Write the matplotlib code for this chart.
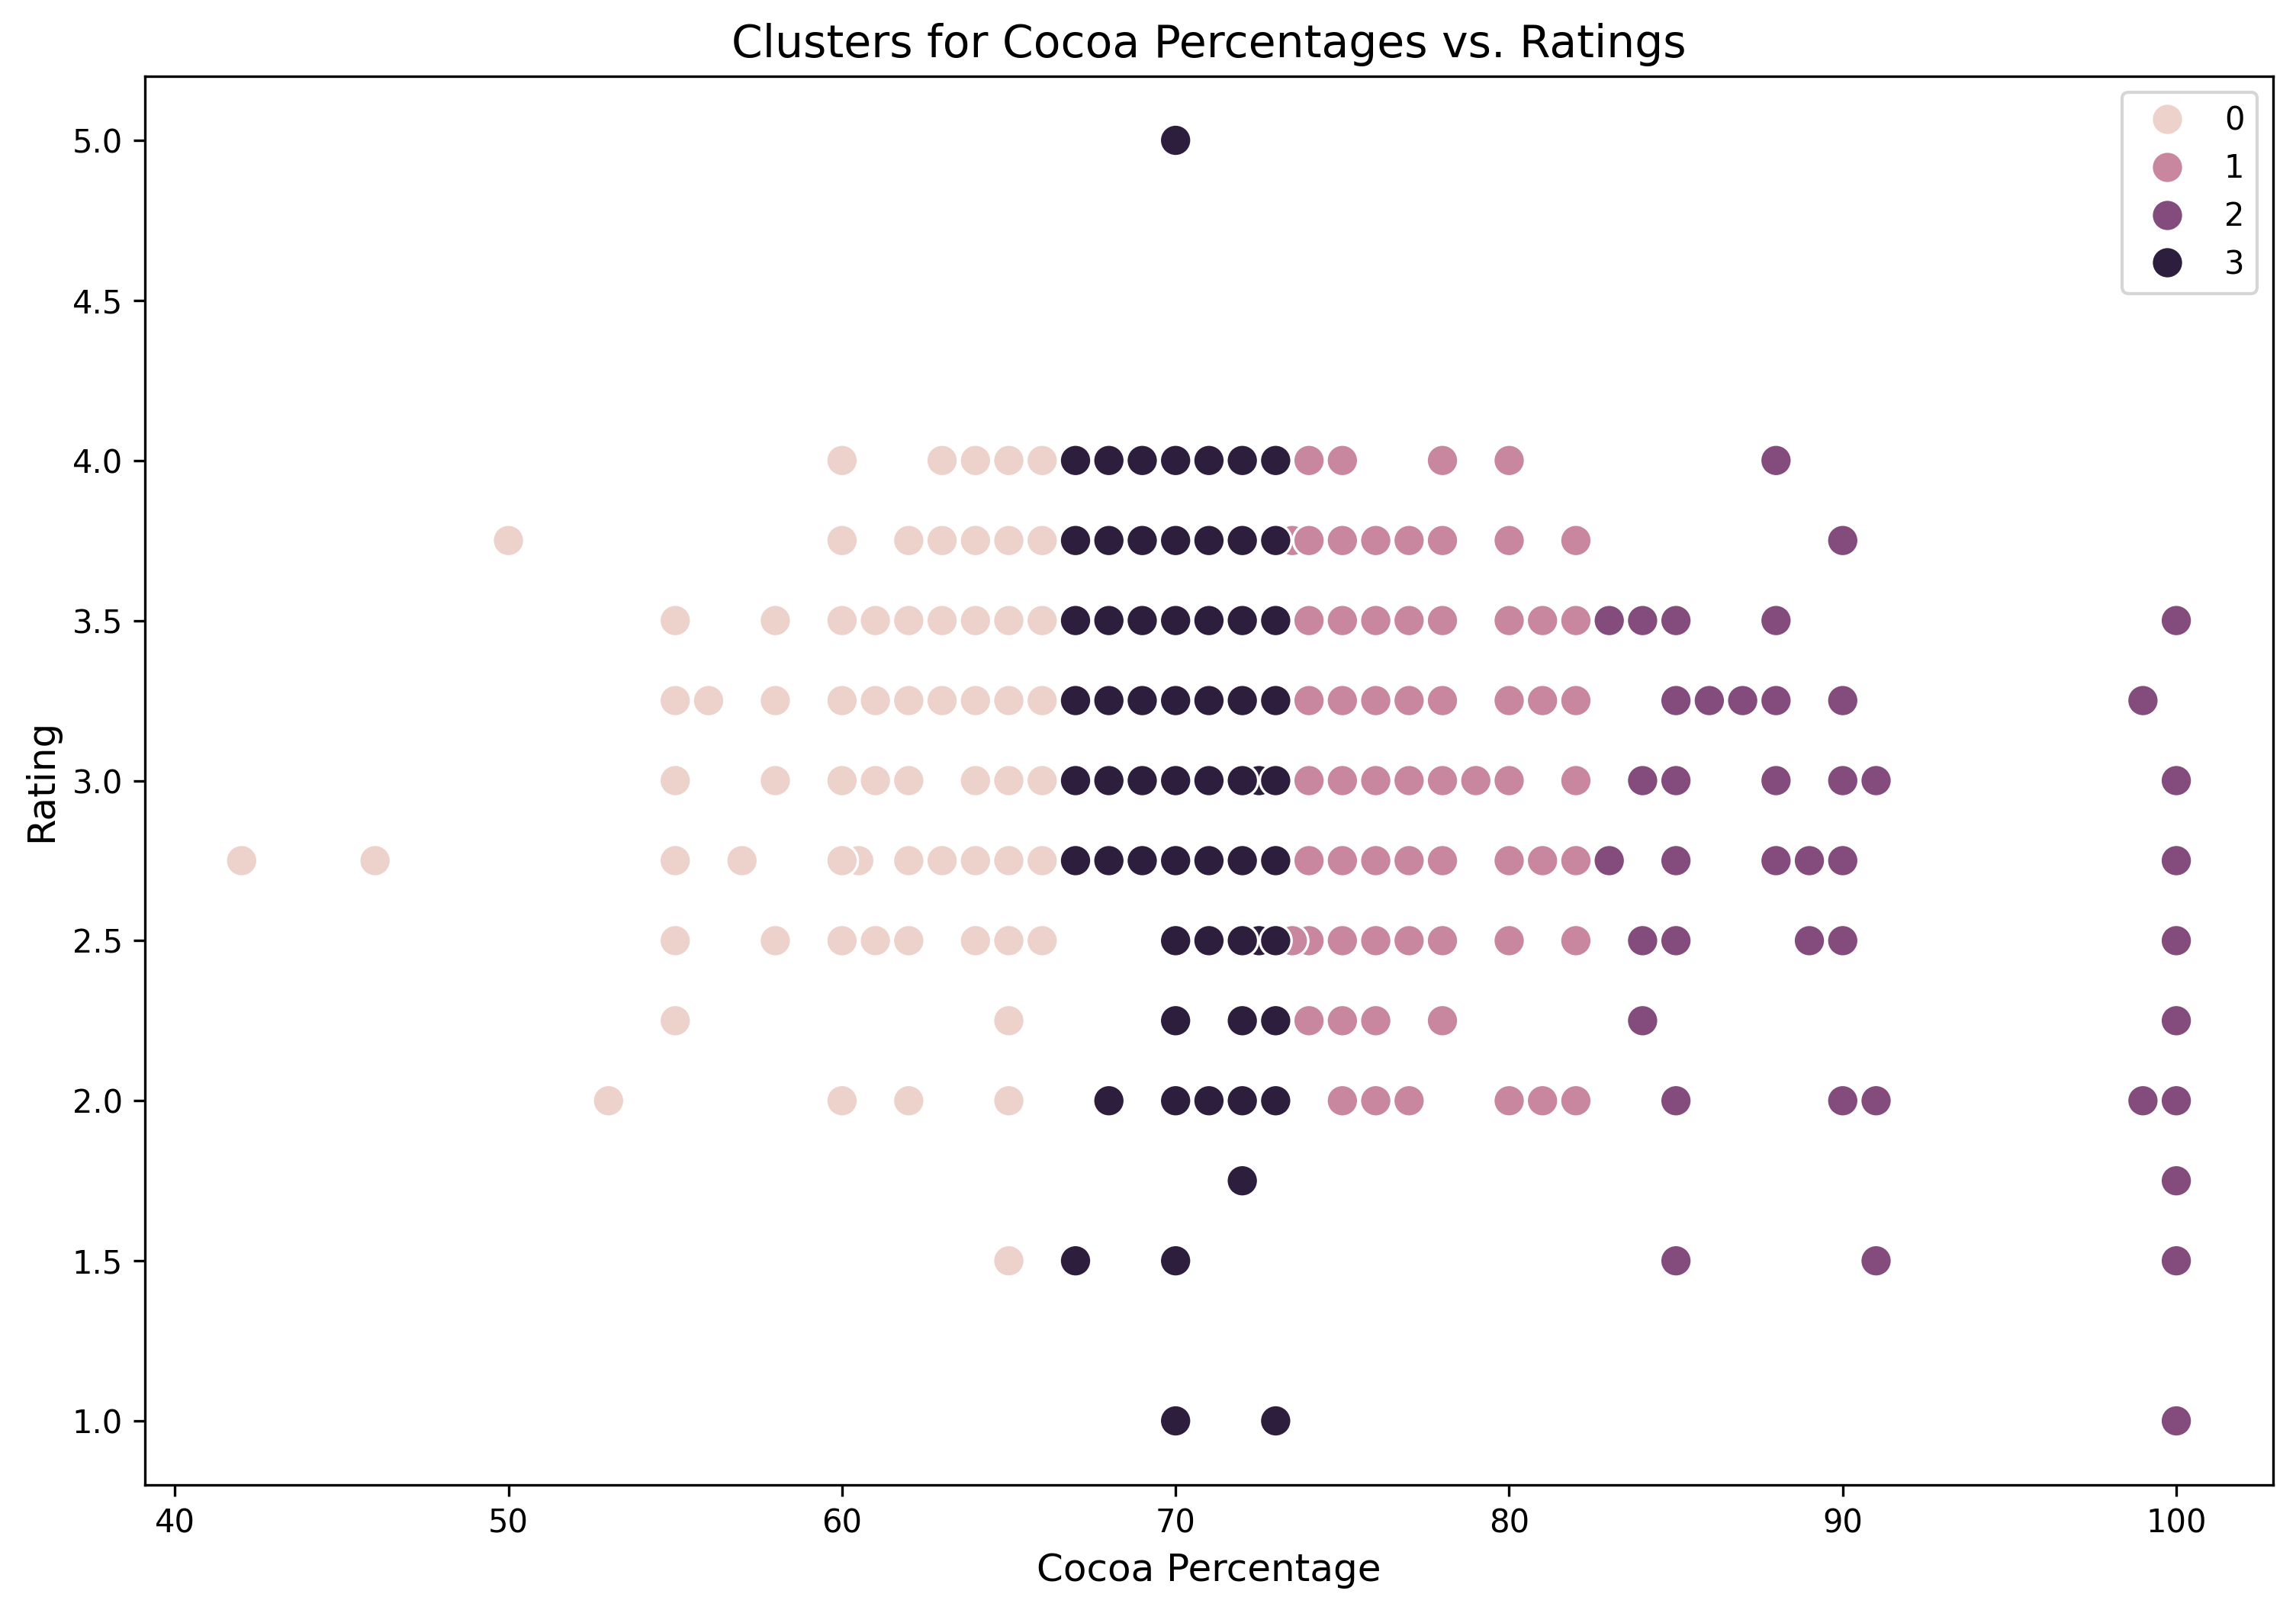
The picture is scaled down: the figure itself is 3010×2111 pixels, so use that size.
import pandas as pd
import seaborn as sns
import matplotlib.pyplot as plt

# cocoa percentages per rating, one dict per cluster
cluster0 = {
    4.0: [60, 63, 64, 65, 66],
    3.75: [50, 60, 62, 63, 64, 65, 66],
    3.5: [55, 58, 60, 61, 62, 63, 64, 65, 66],
    3.25: [55, 56, 58, 60, 61, 62, 63, 64, 65, 66],
    3.0: [55, 58, 60, 61, 62, 64, 65, 66],
    2.75: [42, 46, 55, 57, 60.5, 60, 62, 63, 64, 65, 66],
    2.5: [55, 58, 60, 61, 62, 64, 65, 66],
    2.25: [55, 65],
    2.0: [53, 60, 62, 65],
    1.5: [65],
}
cluster1 = {
    4.0: [74, 75, 78, 80],
    3.75: [73.5, 74, 75, 76, 77, 78, 80, 82],
    3.5: [74, 75, 76, 77, 78, 80, 81, 82],
    3.25: [74, 75, 76, 77, 78, 80, 81, 82],
    3.0: [74, 75, 76, 77, 78, 79, 80, 82],
    2.75: [74, 75, 76, 77, 78, 80, 81, 82],
    2.5: [74, 73.5, 75, 76, 77, 78, 80, 82],
    2.25: [74, 75, 76, 78],
    2.0: [75, 76, 77, 80, 81, 82],
}
cluster2 = {
    4.0: [88],
    3.75: [90],
    3.5: [83, 84, 85, 88, 100],
    3.25: [85, 86, 87, 88, 90, 99],
    3.0: [84, 85, 88, 90, 91, 100],
    2.75: [83, 85, 88, 89, 90, 100],
    2.5: [84, 85, 89, 90, 100],
    2.25: [84, 100],
    2.0: [85, 90, 91, 99, 100],
    1.75: [100],
    1.5: [85, 91, 100],
    1.0: [100],
}
cluster3 = {
    5.0: [70],
    4.0: [67, 68, 69, 70, 71, 72, 73],
    3.75: [67, 68, 69, 70, 71, 72, 73],
    3.5: [67, 68, 69, 70, 71, 72, 73],
    3.25: [67, 68, 69, 70, 71, 72, 73],
    3.0: [72.5, 67, 68, 69, 70, 71, 72, 73],
    2.75: [67, 68, 69, 70, 71, 72, 73],
    2.5: [72.5, 70, 71, 72, 73],
    2.25: [70, 72, 73],
    2.0: [68, 70, 71, 72, 73],
    1.75: [72],
    1.5: [67, 70],
    1.0: [70, 73],
}

rows = []
for label, groups in enumerate([cluster0, cluster1, cluster2, cluster3]):
    for rating, cocoa in groups.items():
        for c in cocoa:
            rows.append((c, rating, label))
df = pd.DataFrame(rows, columns=['Cocoa Percentage', 'Rating', 'Cluster'])

fig = plt.figure(figsize=(3010 / 300, 2111 / 300), dpi=300)
ax = fig.add_axes([0.0631, 0.0777, 0.9269, 0.8749])
sns.scatterplot(data=df, x='Cocoa Percentage', y='Rating', hue='Cluster', s=100, ax=ax)
ax.set_title('Clusters for Cocoa Percentages vs. Ratings', fontsize=14)
ax.set_xlabel('Cocoa Percentage', fontsize=12)
ax.set_ylabel('Rating', fontsize=12)
ax.legend(loc='upper right')
fig.savefig('out.png', dpi=300)
